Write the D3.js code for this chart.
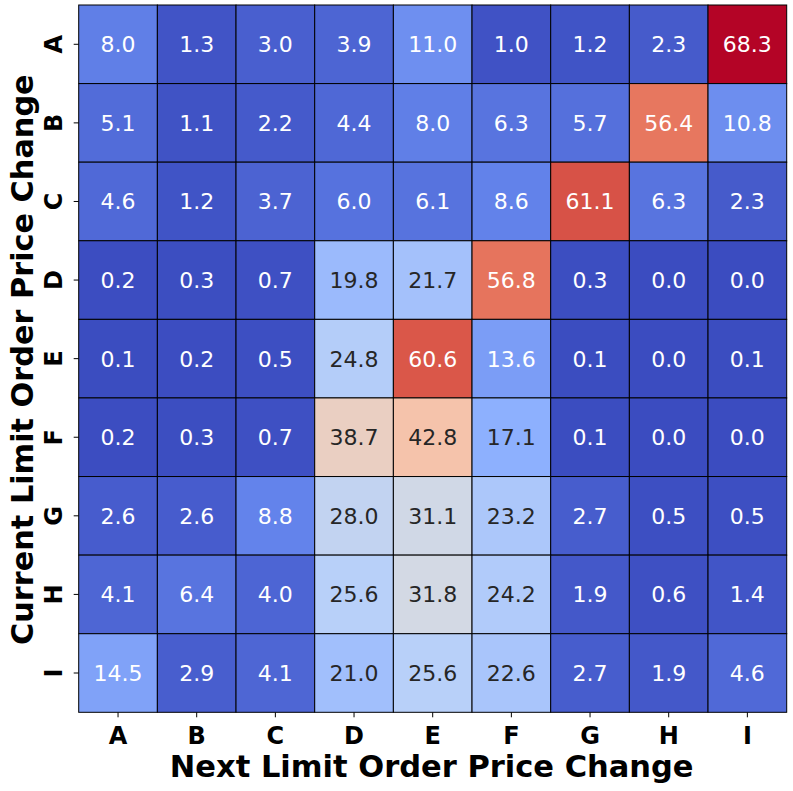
<!DOCTYPE html>
<html>
<head>
<meta charset="utf-8">
<script src="https://cdn.jsdelivr.net/npm/d3@7"></script>
<style>
  html, body { margin: 0; padding: 0; background: #fff; }
  svg { display: block; }
  text { font-family: "DejaVu Sans", sans-serif; }
</style>
</head>
<body>
<svg id="chart" width="793" height="791"></svg>
<script>
const rowLabels = ["A", "B", "C", "D", "E", "F", "G", "H", "I"];
const colLabels = ["A", "B", "C", "D", "E", "F", "G", "H", "I"];
const values = [
  [8.0, 1.3, 3.0, 3.9, 11.0, 1.0, 1.2, 2.3, 68.3],
  [5.1, 1.1, 2.2, 4.4, 8.0, 6.3, 5.7, 56.4, 10.8],
  [4.6, 1.2, 3.7, 6.0, 6.1, 8.6, 61.1, 6.3, 2.3],
  [0.2, 0.3, 0.7, 19.8, 21.7, 56.8, 0.3, 0.0, 0.0],
  [0.1, 0.2, 0.5, 24.8, 60.6, 13.6, 0.1, 0.0, 0.1],
  [0.2, 0.3, 0.7, 38.7, 42.8, 17.1, 0.1, 0.0, 0.0],
  [2.6, 2.6, 8.8, 28.0, 31.1, 23.2, 2.7, 0.5, 0.5],
  [4.1, 6.4, 4.0, 25.6, 31.8, 24.2, 1.9, 0.6, 1.4],
  [14.5, 2.9, 4.1, 21.0, 25.6, 22.6, 2.7, 1.9, 4.6]
];
const xTitle = "Next Limit Order Price Change";
const yTitle = "Current Limit Order Price Change";

const coolwarmStops = ["#3b4cc0", "#6282ea", "#8db0fe", "#b8d0f9", "#dddcdc", "#f5c4ac", "#f49a7b", "#de604d", "#b40426"];

(function () {
const svg = d3.select("#chart");
const pL = 78.7, pR = 786.7, pT = 5, pB = 712.3;

const x = d3.scaleBand().domain(colLabels).range([pL, pR]).padding(0);
const y = d3.scaleBand().domain(rowLabels).range([pT, pB]).padding(0);

const vmin = 0, vmax = d3.max(values.flat());
const norm = d3.scaleLinear().domain([vmin, vmax]).range([0, 1]);
const cmap = d3.scaleLinear()
  .domain(coolwarmStops.map((_, i) => i / (coolwarmStops.length - 1)))
  .range(coolwarmStops)
  .interpolate(d3.interpolateRgb);

function luminance(c) {
  const rgb = d3.rgb(c);
  const f = v => { v /= 255; return v <= 0.03928 ? v / 12.92 : Math.pow((v + 0.055) / 1.055, 2.4); };
  return 0.2126 * f(rgb.r) + 0.7152 * f(rgb.g) + 0.0722 * f(rgb.b);
}

const cells = [];
values.forEach((row, i) => row.forEach((v, j) => cells.push({ r: rowLabels[i], c: colLabels[j], v })));

const g = svg.append("g");
g.selectAll("rect.cell").data(cells).enter().append("rect")
  .attr("class", "cell")
  .attr("x", d => x(d.c))
  .attr("y", d => y(d.r))
  .attr("width", x.bandwidth())
  .attr("height", y.bandwidth())
  .attr("fill", d => cmap(norm(d.v)))
  .attr("stroke", "#000")
  .attr("stroke-width", 1);

g.selectAll("text.val").data(cells).enter().append("text")
  .attr("class", "val")
  .attr("x", d => x(d.c) + x.bandwidth() / 2)
  .attr("y", d => y(d.r) + y.bandwidth() / 2 + 8)
  .attr("text-anchor", "middle")
  .attr("font-size", 22)
  .attr("fill", d => luminance(cmap(norm(d.v))) > 0.408 ? "#262626" : "#ffffff")
  .text(d => d.v.toFixed(1));

const xt = svg.append("g");
colLabels.forEach(c => {
  const cx = x(c) + x.bandwidth() / 2;
  xt.append("line").attr("x1", cx).attr("x2", cx).attr("y1", pB).attr("y2", pB + 5)
    .attr("stroke", "#000").attr("stroke-width", 1);
  xt.append("text").attr("x", cx).attr("y", 744).attr("text-anchor", "middle")
    .attr("font-size", 24).attr("font-weight", "bold").attr("fill", "#000").text(c);
});
const yt = svg.append("g");
rowLabels.forEach(r => {
  const cy = y(r) + y.bandwidth() / 2;
  yt.append("line").attr("x1", pL - 5).attr("x2", pL).attr("y1", cy).attr("y2", cy)
    .attr("stroke", "#000").attr("stroke-width", 1);
  yt.append("text").attr("transform", `translate(62,${cy}) rotate(-90)`).attr("text-anchor", "middle")
    .attr("font-size", 24).attr("font-weight", "bold").attr("fill", "#000").text(r);
});

svg.append("text").attr("x", (pL + pR) / 2 - 1).attr("y", 777).attr("text-anchor", "middle")
  .attr("font-size", 30.5).attr("font-weight", "bold").attr("fill", "#000").text(xTitle);
svg.append("text").attr("transform", `translate(32.5,${(pT + pB) / 2 + 1}) rotate(-90)`).attr("text-anchor", "middle")
  .attr("font-size", 30.3).attr("font-weight", "bold").attr("fill", "#000").text(yTitle);
})();
</script>
</body>
</html>
